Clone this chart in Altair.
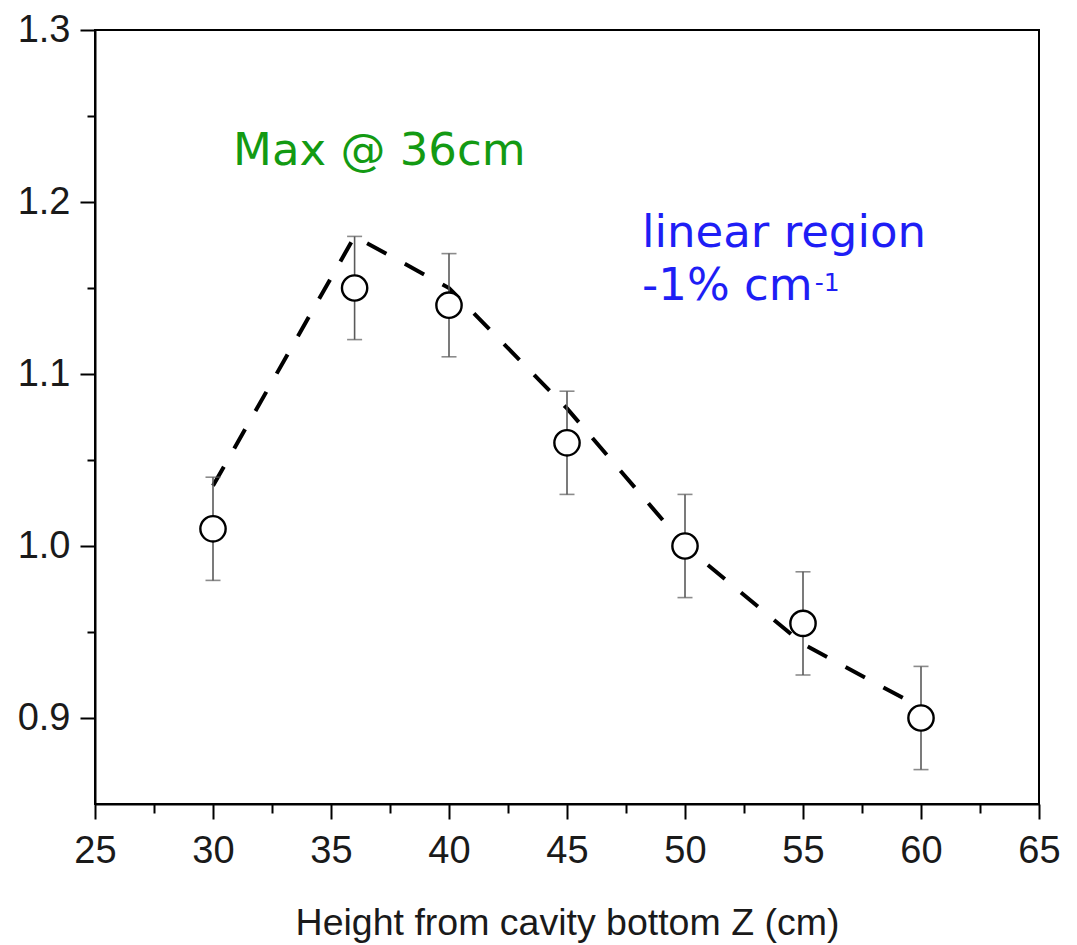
import altair as alt
import pandas as pd

# measured points with error bars
z = [30, 36, 40, 45, 50, 55, 60]
ratio = [1.01, 1.15, 1.14, 1.06, 1.00, 0.955, 0.90]
err_lo = [0.98, 1.12, 1.11, 1.03, 0.97, 0.925, 0.87]
err_hi = [1.04, 1.18, 1.17, 1.09, 1.03, 0.985, 0.93]

# dashed guide curve
line_z = [30, 36, 40, 45, 50, 55, 60]
line_y = [1.035, 1.18, 1.15, 1.08, 1.0, 0.943, 0.906]

x_major = [25, 30, 35, 40, 45, 50, 55, 60, 65]
x_minor = [27.5, 32.5, 37.5, 42.5, 47.5, 52.5, 57.5, 62.5]
y_major = [0.9, 1.0, 1.1, 1.2, 1.3]
y_minor = [0.95, 1.05, 1.15, 1.25]

pts = pd.DataFrame({"z": z, "r": ratio, "lo": err_lo, "hi": err_hi})
ln = pd.DataFrame({"z": line_z, "y": line_y})

green_txt = pd.DataFrame({"x": [30.85], "y": [1.2214], "t": ["Max @ 36cm"]})
blue_txt = pd.DataFrame({"x": [48.18, 48.18], "y": [1.1736, 1.1428],
                         "t": ["linear region", "-1% cm"]})
sup_txt = pd.DataFrame({"x": [55.5], "y": [1.1485], "t": ["-1"]})

xs = alt.Scale(domain=[25, 65], nice=False, zero=False)
ys = alt.Scale(domain=[0.85, 1.3], nice=False, zero=False)

FONT = "Liberation Sans"

x_axis = alt.Axis(values=x_major, format="d", title="Height from cavity bottom Z (cm)",
                  grid=False, tickSize=15, tickWidth=2, tickColor="black",
                  domainWidth=2, domainColor="black", labelFontSize=38, labelFont=FONT,
                  labelColor="#1a1a1a", labelPadding=13, labelFlush=False,
                  titleFont=FONT, titleFontSize=37.5,
                  titleFontWeight="normal",
                  titleColor="#1a1a1a", titleBaseline="alphabetic", titleY=130,
                  titleX=472, titleAlign="center", orient="bottom")
y_axis = alt.Axis(values=y_major, format=".1f", title=None, grid=False, tickSize=15,
                  tickWidth=2, tickColor="black", domainWidth=2, domainColor="black",
                  labelFontSize=38, labelFont=FONT, labelColor="#1a1a1a",
                  labelPadding=10, labelFlush=False, orient="left")

x_minor_axis = alt.Axis(values=x_minor, labels=False, domain=False, grid=False,
                        tickSize=9, tickWidth=2, tickColor="black", title=None,
                        orient="bottom")
y_minor_axis = alt.Axis(values=y_minor, labels=False, domain=False, grid=False,
                        tickSize=8, tickWidth=2, tickColor="black", title=None,
                        orient="left")

line = alt.Chart(ln).mark_line(color="black", strokeWidth=4, strokeDash=[22, 21]).encode(
    x=alt.X("z:Q", scale=xs, axis=x_axis),
    y=alt.Y("y:Q", scale=ys, axis=y_axis),
)

bars = alt.Chart(pts).mark_rule(color="#5a5a5a", strokeWidth=1.6).encode(
    x=alt.X("z:Q", scale=xs, axis=x_minor_axis),
    y=alt.Y("lo:Q", scale=ys, axis=y_minor_axis),
    y2="hi:Q",
)

cap_lo = alt.Chart(pts).mark_tick(color="#5a5a5a", orient="horizontal", size=15,
                                  thickness=1.6).encode(
    x=alt.X("z:Q", scale=xs, axis=None),
    y=alt.Y("lo:Q", scale=ys, axis=None),
)
cap_hi = alt.Chart(pts).mark_tick(color="#5a5a5a", orient="horizontal", size=15,
                                  thickness=1.6).encode(
    x=alt.X("z:Q", scale=xs, axis=None),
    y=alt.Y("hi:Q", scale=ys, axis=None),
)

points = alt.Chart(pts).mark_point(shape="circle", filled=True, fill="white",
                                   stroke="black", strokeWidth=2.4, size=640,
                                   opacity=1).encode(
    x=alt.X("z:Q", scale=xs, axis=None),
    y=alt.Y("r:Q", scale=ys, axis=None),
)

green = alt.Chart(green_txt).mark_text(font="DejaVu Sans", fontSize=45, color="#139a13",
                                       align="left", baseline="alphabetic").encode(
    x=alt.X("x:Q", scale=xs, axis=None),
    y=alt.Y("y:Q", scale=ys, axis=None),
    text="t:N",
)
blue = alt.Chart(blue_txt).mark_text(font="DejaVu Sans", fontSize=45, color="#1e1ef5",
                                     align="left", baseline="alphabetic").encode(
    x=alt.X("x:Q", scale=xs, axis=None),
    y=alt.Y("y:Q", scale=ys, axis=None),
    text="t:N",
)
sup = alt.Chart(sup_txt).mark_text(font="DejaVu Sans", fontSize=25, color="#1e1ef5",
                                   align="left", baseline="alphabetic").encode(
    x=alt.X("x:Q", scale=xs, axis=None),
    y=alt.Y("y:Q", scale=ys, axis=None),
    text="t:N",
)

chart = alt.layer(line, bars, cap_lo, cap_hi, points, green, blue, sup).resolve_axis(
    x="independent", y="independent"
).properties(
    width=944, height=774,
    autosize=alt.AutoSizeParams(type="none"),
    padding={"left": 95, "top": 30, "right": 38, "bottom": 141},
    background="white",
).configure_view(stroke="black", strokeWidth=2)

chart.save("out.html", embed_options={"renderer": "svg", "actions": False})
